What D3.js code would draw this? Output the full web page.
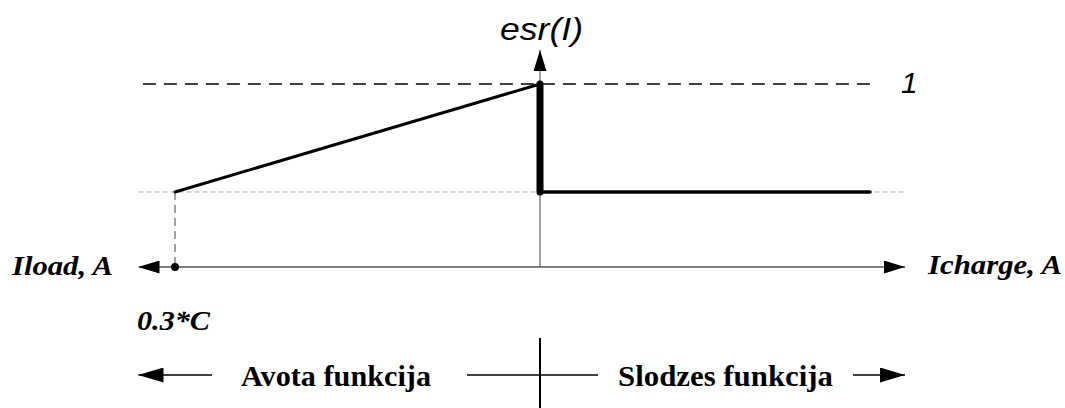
<!DOCTYPE html>
<html>
<head>
<meta charset="utf-8">
<script src="https://cdn.jsdelivr.net/npm/d3@7"></script>
<style>
  html, body { margin: 0; padding: 0; background: #fff; }
</style>
</head>
<body>
<div id="main"></div>
<script>
const W = 1065, H = 408;

// current, in units of 0.3*C (negative = load, positive = charge)
const xAxisRange = [-1.1, 1.0];
const sourceCurve = [[-1, 0.41], [0, 1]];          // Avota funkcija
const chargeDrop = [[0, 1], [0, 0.41]];            // vertical step
const chargeFlat = [[0, 0.41], [0.904, 0.41]];     // Slodzes funkcija
const levelOne = 1;
const levelMin = 0.41;
const loadMark = -1;

const labels = {
    yName: "esr(I)",
    one: "1",
    left: "Iload, A",
    right: "Icharge, A",
    mark: "0.3*C",
    source: "Avota funkcija",
    charge: "Slodzes funkcija"
};

const x = d3.scaleLinear().domain([-1, 1]).range([175, 905]);
const y = d3.scaleLinear().domain([0, 1]).range([267, 84]);

const svg = d3.select("#main").append("svg")
    .attr("width", W)
    .attr("height", H);

const defs = svg.append("defs");
function marker(id, len, wid) {
    defs.append("marker")
        .attr("id", id)
        .attr("viewBox", `0 0 ${len} ${wid}`)
        .attr("refX", len).attr("refY", wid / 2)
        .attr("markerWidth", len).attr("markerHeight", wid)
        .attr("markerUnits", "userSpaceOnUse")
        .attr("orient", "auto-start-reverse")
        .append("path")
        .attr("d", `M0,0L${len},${wid / 2}L0,${wid}Z`)
        .attr("fill", "#000");
}
marker("arr", 21, 13);
marker("arrBig", 25, 15);

const line = d3.line().x(d => x(d[0])).y(d => y(d[1]));

// gray reference at min level
svg.append("line")
    .attr("x1", x(-1.1)).attr("x2", x(1.0))
    .attr("y1", y(levelMin)).attr("y2", y(levelMin))
    .attr("stroke", "#aaa").attr("stroke-width", 1)
    .attr("stroke-dasharray", "5,3");

// dashed level 1
svg.append("line")
    .attr("x1", x(-1.088)).attr("x2", x(0.91))
    .attr("y1", y(levelOne)).attr("y2", y(levelOne))
    .attr("stroke", "#000").attr("stroke-width", 1.5)
    .attr("stroke-dasharray", "13,8");

// vertical dashed from load mark
svg.append("line")
    .attr("x1", x(loadMark)).attr("x2", x(loadMark))
    .attr("y1", y(levelMin)).attr("y2", y(0))
    .attr("stroke", "#444").attr("stroke-width", 1)
    .attr("stroke-dasharray", "8,5");

// horizontal axis
svg.append("line")
    .attr("x1", x(xAxisRange[0])).attr("x2", x(xAxisRange[1]))
    .attr("y1", y(0)).attr("y2", y(0))
    .attr("stroke", "#000").attr("stroke-width", 1.2)
    .attr("marker-start", "url(#arr)")
    .attr("marker-end", "url(#arr)");

// vertical axis
svg.append("line")
    .attr("x1", x(0)).attr("x2", x(0))
    .attr("y1", y(0)).attr("y2", 50)
    .attr("stroke", "#444").attr("stroke-width", 1)
    .attr("marker-end", "url(#arr)");

svg.append("circle")
    .attr("cx", x(loadMark)).attr("cy", y(0)).attr("r", 4)
    .attr("fill", "#000");

// curves
svg.append("path").attr("d", line(sourceCurve))
    .attr("fill", "none").attr("stroke", "#000").attr("stroke-width", 3)
    .attr("stroke-linecap", "round");
svg.append("path").attr("d", line(chargeFlat))
    .attr("fill", "none").attr("stroke", "#000").attr("stroke-width", 3.5)
    .attr("stroke-linecap", "round");
svg.append("path").attr("d", line(chargeDrop))
    .attr("fill", "none").attr("stroke", "#000").attr("stroke-width", 7)
    .attr("stroke-linecap", "round");

// labels
const sans = "'Liberation Sans', Arial, sans-serif";
const serif = "'Liberation Serif', 'Times New Roman', serif";

svg.append("text").attr("x", 500).attr("y", 40)
    .style("font-family", sans).style("font-style", "italic").style("font-size", "32px")
    .attr("textLength", 83).attr("lengthAdjust", "spacingAndGlyphs")
    .text(labels.yName);
svg.append("text").attr("x", 901).attr("y", 93)
    .style("font-family", sans).style("font-style", "italic").style("font-size", "30px")
    .text(labels.one);

function serifText(t, tx, ty, len, size, italic) {
    svg.append("text").attr("x", tx).attr("y", ty)
        .style("font-family", serif).style("font-weight", "bold")
        .style("font-style", italic ? "italic" : "normal")
        .style("font-size", size + "px")
        .attr("textLength", len).attr("lengthAdjust", "spacingAndGlyphs")
        .text(t);
}
serifText(labels.left, 12, 275, 101, 28, true);
serifText(labels.right, 928, 274, 134, 27, true);
serifText(labels.mark, 137, 330, 73, 28, true);
serifText(labels.source, 241, 386, 190, 30, false);
serifText(labels.charge, 618, 386, 215, 30, false);

// bottom legend arrows and cross
const ly = 375;
svg.append("line").attr("x1", 212).attr("x2", x(-1.1)).attr("y1", ly).attr("y2", ly)
    .attr("stroke", "#000").attr("stroke-width", 1.5).attr("marker-end", "url(#arrBig)");
svg.append("line").attr("x1", 853).attr("x2", x(1.0)).attr("y1", ly).attr("y2", ly)
    .attr("stroke", "#000").attr("stroke-width", 1.5).attr("marker-end", "url(#arrBig)");
svg.append("line").attr("x1", 467).attr("x2", 598).attr("y1", ly).attr("y2", ly)
    .attr("stroke", "#000").attr("stroke-width", 1.5);
svg.append("line").attr("x1", x(0)).attr("x2", x(0)).attr("y1", 338).attr("y2", 408)
    .attr("stroke", "#000").attr("stroke-width", 2);
</script>
</body>
</html>
